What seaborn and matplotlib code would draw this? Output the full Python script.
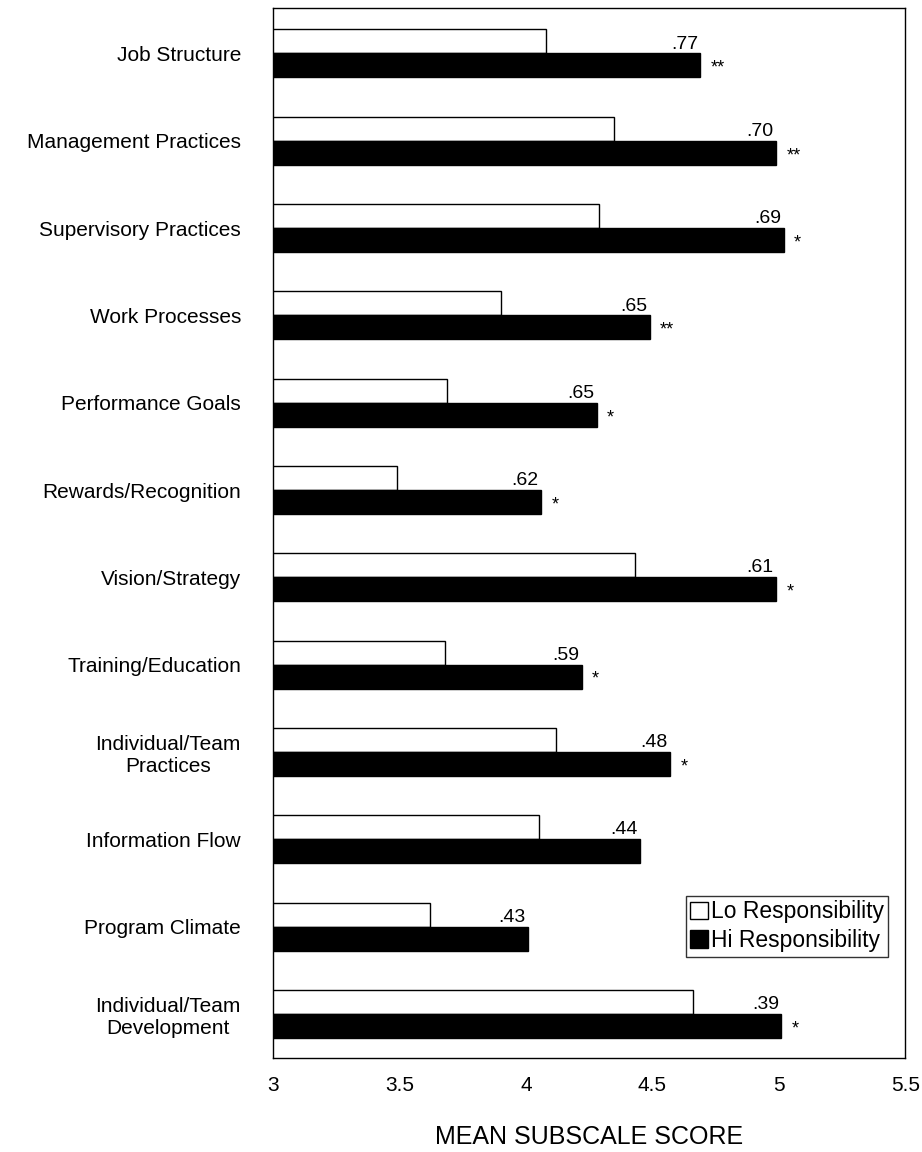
import pandas as pd
import matplotlib
matplotlib.use("Agg")
import matplotlib.pyplot as plt
import seaborn as sns

# data
categories = ["Job Structure", "Management Practices", "Supervisory Practices",
              "Work Processes", "Performance Goals", "Rewards/Recognition",
              "Vision/Strategy", "Training/Education", "Individual/Team\nPractices",
              "Information Flow", "Program Climate", "Individual/Team\nDevelopment"]
lo_scores = [4.08, 4.35, 4.29, 3.90, 3.69, 3.49, 4.43, 3.68, 4.12, 4.05, 3.62, 4.66]
hi_scores = [4.69, 4.99, 5.02, 4.49, 4.28, 4.06, 4.99, 4.22, 4.57, 4.45, 4.01, 5.01]
corr_labels = [".77", ".70", ".69", ".65", ".65", ".62", ".61", ".59", ".48", ".44", ".43", ".39"]
stars = ["**", "**", "*", "**", "*", "*", "*", "*", "*", "", "", "*"]

df = pd.DataFrame({
    "category": categories * 2,
    "score": lo_scores + hi_scores,
    "group": ["Lo Responsibility"] * len(categories) + ["Hi Responsibility"] * len(categories),
})

sns.set_style("white")
plt.rcParams["font.family"] = ["Liberation Sans", "DejaVu Sans"]
plt.rcParams["text.color"] = "black"
plt.rcParams["axes.labelcolor"] = "black"
plt.rcParams["xtick.color"] = "black"
plt.rcParams["ytick.color"] = "black"

fig = plt.figure(figsize=(9.22, 11.52), dpi=100)
ax = fig.add_axes([0.296, 0.082, 0.686, 0.911])

sns.barplot(data=df, x="score", y="category", hue="group", orient="h",
            palette={"Lo Responsibility": "white", "Hi Responsibility": "black"},
            edgecolor="black", linewidth=1, width=0.55, ax=ax)

ax.set_xlim(3, 5.5)
ax.set_ylim(11.5, -0.52)
ax.set_xticks([3, 3.5, 4, 4.5, 5, 5.5])
ax.set_xticklabels(["3", "3.5", "4", "4.5", "5", "5.5"], fontsize=15)
ax.set_xlabel("MEAN SUBSCALE SCORE", fontsize=18, labelpad=22)
ax.set_ylabel("")
ax.tick_params(axis="x", length=0, pad=13)
ax.tick_params(axis="y", length=0, pad=23)
for lab in ax.get_yticklabels():
    lab.set_fontsize(15)
    lab.set_multialignment("center")

for sp in ax.spines.values():
    sp.set_color("black")
    sp.set_linewidth(1)
    sp.set_visible(True)

# correlation labels and significance stars
for i, (hv, c, s) in enumerate(zip(hi_scores, corr_labels, stars)):
    ax.text(hv - 0.01, i - 0.01, c, ha="right", va="bottom", fontsize=14)
    if s:
        ax.text(hv + 0.04, i + 0.17, s, ha="left", va="center", fontsize=13)

leg = ax.legend(loc="lower right", bbox_to_anchor=(0.973, 0.096), fontsize=16.5,
                frameon=True, fancybox=False, edgecolor="black",
                handlelength=0.8, handleheight=0.8, handletextpad=0.1,
                borderpad=0.2, labelspacing=0.25, borderaxespad=0)
leg.get_frame().set_linewidth(1)

fig.savefig("out.png", dpi=100)
